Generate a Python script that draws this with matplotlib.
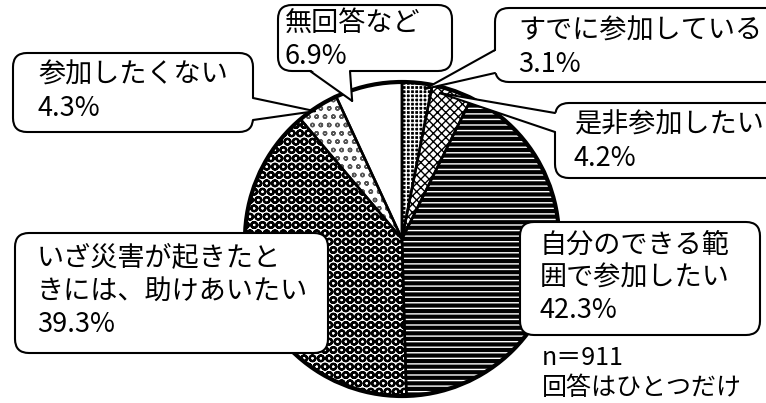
import numpy as np
import matplotlib.pyplot as plt
from matplotlib.patches import FancyBboxPatch, Polygon, Circle

plt.rcParams['font.family'] = ['Noto Sans CJK JP', 'DejaVu Sans']

# data, clockwise from 12 o'clock
categories = ['すでに参加している', '是非参加したい', '自分のできる範囲で参加したい',
              'いざ災害が起きたときには、助けあいたい', '参加したくない', '無回答など']
percent = [3.1, 4.2, 42.3, 39.3, 4.3, 6.9]
box_lines = [['すでに参加している'], ['是非参加したい'], ['自分のできる範', '囲で参加したい'],
             ['いざ災害が起きたと', 'きには、助けあいたい'], ['参加したくない'], ['無回答など']]
note_lines = ['n＝911', '回答はひとつだけ']

# monochrome fill patterns
face = ['black', 'white', 'black', 'white', 'white', 'white']
hatches = ['++++', 'xxxx', '---', 'OO', 'oo', '']
hatch_col = ['white', 'black', 'white', 'black', '#555555', 'white']
hatch_lw = [1.0, 1.0, 1.0, 1.6, 1.0, 1.0]

W, H = 766, 403
cx, cy, R = 402, 239, 157

# callout layout in pixel coords (y down): box, first text line, pointer base, tip (slice fraction, radius fraction)
callouts = [
    dict(box=(495, 8, 790, 82), text=(518, 31), base=((495, 50), (495, 73)), tip=(0.78, 0.967)),
    dict(box=(555, 103, 790, 178), text=(574, 125), base=((555, 113), (555, 132)), tip=(0.23, 0.96)),
    dict(box=(520, 222, 760, 335), text=(540, 245), base=None, tip=None),
    dict(box=(15, 233, 328, 353), text=(37, 258), base=None, tip=None),
    dict(box=(13, 53, 253, 132), text=(38, 75), base=((253, 98), (253, 120)), tip=(0.39, 0.985)),
    dict(box=(278, 5, 452, 71), text=(285, 23), base=((310, 71), (350, 71)), tip=(0.2, 0.935)),
]
step = 33

fig = plt.figure(figsize=(W / 100, H / 100), dpi=100)
ax = fig.add_axes([0, 0, 1, 1])

# y axis runs downwards, so counterclock=True draws clockwise on screen
wedges, _ = ax.pie(percent, startangle=-90, counterclock=True, center=(cx, cy), radius=R,
                   wedgeprops=dict(linewidth=0))
for w, fc, h, hc, hl in zip(wedges, face, hatches, hatch_col, hatch_lw):
    w.set_facecolor(fc)
    w.set_edgecolor(hc)
    w.set_hatch(h)
    if hasattr(w, 'set_hatch_linewidth'):
        w.set_hatch_linewidth(hl)
    w.set_zorder(1)

outline, _ = ax.pie(percent, startangle=-90, counterclock=True, center=(cx, cy), radius=R,
                    colors=['none'] * len(percent),
                    wedgeprops=dict(edgecolor='black', linewidth=1.8))
for w in outline:
    w.set_zorder(2)
ax.add_patch(Circle((cx, cy), R, fill=False, edgecolor='black', linewidth=3, zorder=2))

cum = np.concatenate([[0], np.cumsum(percent)]) / np.sum(percent) * 360

for i, c in enumerate(callouts):
    x0, y0, x1, y1 = c['box']
    ax.add_patch(FancyBboxPatch((x0, y0), x1 - x0, y1 - y0,
                                boxstyle='round,pad=0,rounding_size=14',
                                facecolor='white', edgecolor='black', linewidth=1.5, zorder=4))
    if c['base'] is not None:
        frac, rf = c['tip']
        phi = np.radians(cum[i] + frac * (cum[i + 1] - cum[i]))
        tip = (cx + rf * R * np.sin(phi), cy - rf * R * np.cos(phi))
        (bx0, by0), (bx1, by1) = c['base']
        # push base a little into the box so the border is hidden there
        dx = 2 if bx0 == bx1 and bx0 == x0 else (-2 if bx0 == bx1 else 0)
        dy = -2 if by0 == by1 else 0
        ax.add_patch(Polygon([(bx0 + dx, by0 + dy), (bx1 + dx, by1 + dy), tip], closed=True,
                             facecolor='white', edgecolor='none', zorder=5))
        for bx, by in ((bx0, by0), (bx1, by1)):
            ax.plot([bx, tip[0]], [by, tip[1]], color='black', linewidth=1.5, zorder=6,
                    solid_capstyle='round')
    tx, ty = c['text']
    lines = box_lines[i] + [f'{percent[i]:.1f}%']
    for k, line in enumerate(lines):
        ax.text(tx, ty + k * step, line, fontsize=19.5, ha='left', va='center', zorder=7)

for k, line in enumerate(note_lines):
    ax.text(542, 358 + k * 30, line, fontsize=18, ha='left', va='center', zorder=7)

ax.set_xlim(0, W)
ax.set_ylim(H, 0)
ax.set_aspect('equal')
ax.axis('off')

fig.savefig('out.png', dpi=100)
